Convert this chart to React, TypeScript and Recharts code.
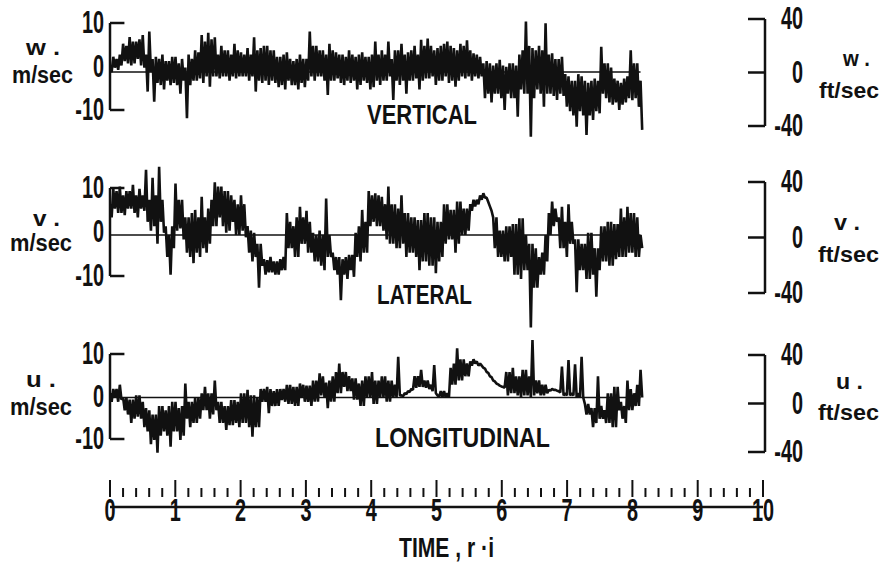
import React from 'react';
import { LineChart, Line, XAxis, YAxis, ReferenceLine } from 'recharts';

// the records are read as an upper and a lower envelope every STEP (time units);
// the pen swings between them, which gives the dense band of the original traces
const STEP = 0.05;
const TRACE_END = 8.1;

// vertical gust component w, m/sec
const wUpper = [
  1, 3.5, 3, 4,
  6.5, 6, 8, 7, 7, 7.5, 8.5,
  4, 9.3, 3,
  3.5, 3, 4, 2.5, 2.5, 3.5, 3.5, 2, 3,
  1,
  4, 3, 5, 4.5,
  8.5, 7, 9, 7.5, 8,
  4, 6, 5, 5, 4, 6.5, 5, 4.5, 4, 5.5, 4,
  8,
  5, 5.5, 6, 6, 5, 5,
  3.5, 3.5, 4, 4.5, 3, 2.5, 3, 4, 3, 3,
  9.3,
  6, 6, 5, 5, 4, 6.5, 5, 4.5, 4,
  4, 3.5, 5, 4, 3.5, 4, 4.5, 3.5, 3.5, 4, 7, 4,
  5, 4, 7,
  3, 5, 5, 6.5, 4, 4.5, 5, 6, 4,
  7.4, 6, 7.7, 6, 5, 5.5, 6, 6.5, 7, 6, 5.5, 5, 6.5, 6, 7.3,
  5, 4.3, 4, 3.5,
  2, 2.5, 2, 1.5, 2, 2.8, 1.5, 1.2, 2, 2, 1.5,
  4, 5, 11.6, 6, 5.5, 5, 6, 5,
  11.2,
  4, 4.3, 3, 3, 3.5,
  -0.5, -1, -2, -2, -0.5, -1, -2, -2.5, -2, -1.5, -2,
  5.8, 2, 2, 1,
  -1.5, -2, -2.5, -1.5, -1,
  5, 2, 2, -2,
];
const wLower = [
  0, 1, 0.5, 1.5,
  2.5, 2, 1.5, 2, 3, 1.5, 1,
  -4.5, 0, -6.8,
  -2.5, -3, -4, -2, -3, -2.5, -3, -5, -2,
  -10.6,
  -3, -2, -2, -1.5,
  -2.5, -1, -3.4, -1, -1,
  -1.5, -1, -1, -2, -1, -1.5, -1, -1, -1, -2, -1,
  -4.5,
  -2, -2.5, -2, -3, -2, -2.5,
  -3.5, -3, -4, -2, -3, -3, -4, -2.5, -3.5, -2,
  -1,
  -2, -1, -1, -2, -5.3, -2, -2, -1.5, -2.5,
  -3, -2, -2.5, -2, -4, -3, -2, -2.5, -4, -3.5, -2, -3,
  -2, -2, -1,
  -6.4, -2, -3, -2, -5, -2, -2, -1.5, -4,
  -2, -1.5, -1.5, -1, -3, -2, -2, -1, -2.5, -2, -3.4, -2, -1, -1.5, -1,
  -2, -1, -1.5, -1,
  -6, -5, -7, -5, -5, -6, -8.7, -5, -6, -6, -10.3,
  -4, -5, -5, -14.9, -6, -4, -5, -8,
  -5,
  -5, -5.5, -6.4, -5, -5.5,
  -8, -9, -10, -12.6, -9, -10, -14.5, -10, -11, -9, -9.5,
  -5, -6, -7, -7.5,
  -7, -8.7, -7.5, -7, -6,
  -6.5, -6, -8, -13.3,
];

// lateral gust component v, m/sec
const vUpper = [
  7, 10.5, 10, 11, 9, 10, 10, 11.4, 9, 10.5, 9,
  14.8, 8, 13, 9, 15.5, 8,
  2, 0, 2,
  11.7, 8, 8,
  4, 4, 5, 5.7, 4, 8.7, 4,
  6, 8, 12, 11, 11, 10, 10, 9,
  8, 7, 9, 7,
  2, 1, 0.5, -2, -2,
  -5.5, -5.7, -5, -6, -6, -5.5, -5,
  5, 3, 2, 4, 6.4, 4, 5.5, 3,
  0.5, 0, 1, 0, 8.3, 0,
  -4, -5, -5, -5.5, -5, -4.5, -4.5,
  0.5, 2, 5.7, 3,
  10, 9, 9.5, 9, 8.7,
  7, 11, 7, 7, 6, 9,
  5, 5, 4, 4,
  3.4, 3.4, 5, 5, 4, 4, 3, 3,
  7, 7, 5.7, 5.7, 7.6, 7.6, 6, 6,
  7, 8, 8, 9, 9.5, 8.5, 6.5,
  4, 4, 1, 1, 2, 2,
  2.5, 2.5, 3.8, 3.8, 0,
  -2,
  -2, -3, -5, -4, 0,
  5, 7.6, 6,
  4, 6.4, 3, 7, 3,
  -1, -1, -2, -2, 0.5, 0.5, -3, -3,
  2, 2, 3, 3, 2.5, 2.5,
  6, 4, 6.4, 5, 5, 4, 0,
];
const vLower = [
  4, 6, 5, 5, 4.5, 6, 6, 5, 4, 6, 5.5,
  3, 1, 2, -2, 3, 0.5,
  -5, -9, -3,
  1, 1.5, -1,
  -4, -5, -6.4, -4, -5, -3, -4,
  -2, 2, 2, 4, 2, 0.5, 1, 3,
  0, 0, 1, -0.5,
  -4, -6, -5, -12, -7,
  -9, -8.5, -8.5, -9, -9, -8, -8,
  -3, -3, -5, -5, -2, -2, -4, -4,
  -6, -6, -7, -8, -5, -5,
  -8, -9, -14.8, -9, -10, -8, -9.5,
  -5, -6, -4, -4,
  2, 3, 2, 2, 1,
  -1, -2, -2, -3, -3, -2,
  -5, -4, -4, -5,
  -8, -6, -6, -7, -7, -8.7, -6, -5,
  -2, -1, -1, -4, -2, 0, 0, 1,
  5.5, 6.5, 7, 8, 8.5, 7.5, 5.5,
  -3, -5, -5, -6, -6, -5,
  -9, -9, -10, -8, -8,
  -21,
  -12, -12, -9, -9, -6,
  0, 2, 3,
  -3, -3, -5, -2, -2,
  -13, -8, -8, -10, -10, -9, -14, -8,
  -6, -6, -7, -7, -5.5, -5,
  -5, -5, -4, -4, -5, -5, -3,
];

// longitudinal gust component u, m/sec
const uUpper = [
  1, 2, 2, 3,
  0, 0, -0.5, -0.5, 0.5, 0.5, -1,
  -2.5, -3, -4, -4,
  -2, -2, -3, -2, -1, -1, -2.5, -2,
  3.3,
  -1, -1, 0, 0,
  1, 2.5, 1, 1, 4,
  -1, -1, -2, -2, -0.6, -0.6, -1,
  1, 1, 1.8, 0.5, 0.5, 0,
  2, 2, 2.5, 2, 1.5, 2, 2, 2,
  3, 3, 2.5, 2.5, 3.3, 3, 2.8, 2.8,
  4, 4, 5.7, 5, 3.5, 4, 5,
  6, 8, 6, 6, 5,
  4.5, 4.5, 3.3, 4, 5, 5, 6, 4, 4,
  5, 5, 4, 4, 3,
  9.6,
  0.5, 1, 1.5, 2,
  5, 5, 6.5, 4, 4, 3, 7.6,
  0.5, 1.5, 1.5, 1,
  7, 8, 11.6, 9, 9, 8,
  8.5, 9, 8.5, 8,
  7, 6, 5, 4, 3.3, 2.8, 2.5,
  6, 6, 7, 5, 5, 6.5, 6.5, 5,
  13.5,
  4, 4, 3, 3,
  1.8, 2, 1.8, 1.5,
  7.3, 1, 8.8, 1, 7.8, 1, 9.6,
  -1.5, -1.5, -2.5, -2.5, 5, -2,
  -3, 1, 1, 2.5, 2.5, -1, -2,
  4, 2, 1, 3, 6.5,
];
const uLower = [
  -1, 0, -1, -0.5,
  -3, -4, -6, -5, -4.5, -5, -7,
  -8, -11, -10, -13,
  -9, -8, -9, -11.6, -8, -8, -10, -9,
  -5,
  -7, -6, -6, -5,
  -3, -3, -5, -4, -3,
  -6, -6, -7.6, -6.5, -6.5, -6, -7,
  -6, -6, -7, -9.2, -7, -7,
  -1, -1, -3.7, -2, -2, -2, -0.6, -1,
  -1.5, -1.5, -2, -2, 0, -1, -1, -2,
  -1, -1, 0.5, 0, -2.5, -1, -1,
  1, 1, 2.5, 1.5, 1.5,
  -0.5, -0.5, -2, -2, 0, 0, -1.5, -1.5, 0,
  0, -1, -1, 0, 0,
  0.5,
  0.3, 0.8, 1.3, 1.8,
  2.3, 2.5, 2.5, 2.3, 2, 1.5, 1,
  0.2, 0, 0, 0,
  3, 3, 4, 4, 5, 5,
  7.5, 8, 7.5, 7.5,
  6.8, 5.8, 4.8, 3.8, 3.1, 2.6, 2.3,
  0.5, 1, 1, 0.5, 0, 0.5, 0.5, 0,
  0.5,
  1, 0.5, 0.5, 1,
  1.6, 1.8, 1.6, 1.2,
  0.5, 0.5, 0.5, 0.5, 0, 0, 0,
  -4, -4, -7, -6, -5, -5,
  -6, -6, -7, -7, -3, -5, -6,
  -3, -3, -2, -2, 0,
];

const mpsTicks = [-10, 0, 10];
const ftpsTicks = [-40, 0, 40];
const timeLabels = ['0', '1', '2', '3', '4', '5', '6', '7', '8', '9', '10'];
const MINOR = 0.2;

const FONT = "'Liberation Sans', Arial, sans-serif";
const INK = '#111';
const SQUEEZE = 0.64;

const toRows = (upper: number[], lower: number[]) => {
  const rows: { t: number; v: number }[] = [];
  upper.forEach((u, i) => {
    rows.push({ t: +(i * STEP).toFixed(3), v: u });
    rows.push({ t: +(i * STEP + STEP / 2).toFixed(3), v: lower[i] });
  });
  return rows;
};

// domain that puts value 0 at pixel `zero` with `k` px per unit, over plot [top, bottom]
const dom = (zero: number, k: number, top: number, bottom: number): [number, number] => [
  (zero - bottom) / k,
  (zero - top) / k,
];

// bold condensed numeral, squeezed horizontally around its anchor
const Num = ({ x, y, anchor, children }: { x: number; y: number; anchor: 'start' | 'middle' | 'end'; children: React.ReactNode }) => (
  <text
    transform={`translate(${x},${y}) scale(${SQUEEZE},1)`}
    x={0}
    y={0}
    textAnchor={anchor}
    fontFamily={FONT}
    fontWeight={700}
    fontSize={31}
    fill={INK}
  >
    {children}
  </text>
);

const LeftTick = (p: any) => (
  <Num x={104} y={p.y + 10} anchor="end">{p.payload.value}</Num>
);

const RightTick = (p: any) => (
  <Num x={803} y={p.y + 10} anchor="end">{p.payload.value}</Num>
);

type PanelProps = {
  upper: number[];
  lower: number[];
  top: number;
  bottom: number;
  dataZero: number;
  k: number;
  leftZero: number;
  leftK: number;
  rightZero: number;
  rightK: number;
};

function Panel({ upper, lower, top, bottom, dataZero, k, leftZero, leftK, rightZero, rightK }: PanelProps) {
  const h = bottom - top;
  return (
    <div style={{ position: 'absolute', left: 0, top }}>
      <LineChart width={882} height={h} data={toRows(upper, lower)} margin={{ top: 0, right: 0, bottom: 0, left: 0 }}>
        <XAxis dataKey="t" type="number" domain={[0, 10]} hide allowDataOverflow />
        <YAxis yAxisId="D" type="number" hide domain={dom(dataZero, k, top, bottom)} allowDataOverflow />
        <YAxis
          yAxisId="L"
          orientation="left"
          type="number"
          width={110}
          domain={dom(leftZero, leftK, top, bottom)}
          ticks={mpsTicks}
          interval={0}
          allowDataOverflow
          axisLine={false}
          tickLine={false}
          tick={<LeftTick />}
        />
        <YAxis
          yAxisId="R"
          orientation="right"
          type="number"
          width={117}
          domain={dom(rightZero, rightK, top, bottom)}
          ticks={ftpsTicks}
          interval={0}
          allowDataOverflow
          axisLine={false}
          tickLine={false}
          tick={<RightTick />}
        />

        {/* left bracket */}
        <ReferenceLine yAxisId="L" segment={[{ x: 0, y: -10 }, { x: 0, y: 10 }]} stroke={INK} strokeWidth={2.5} />
        <ReferenceLine yAxisId="L" segment={[{ x: 0, y: 10 }, { x: 0.22, y: 10 }]} stroke={INK} strokeWidth={2.5} />
        <ReferenceLine yAxisId="L" segment={[{ x: 0, y: -10 }, { x: 0.22, y: -10 }]} stroke={INK} strokeWidth={2.5} />

        {/* right bracket */}
        <ReferenceLine yAxisId="R" segment={[{ x: 10, y: -40 }, { x: 10, y: 40 }]} stroke={INK} strokeWidth={2.5} />
        {ftpsTicks.map((v) => (
          <ReferenceLine key={v} yAxisId="R" segment={[{ x: 9.74, y: v }, { x: 10, y: v }]} stroke={INK} strokeWidth={2.5} />
        ))}

        {/* zero reference */}
        <ReferenceLine yAxisId="D" segment={[{ x: 0, y: 0 }, { x: TRACE_END, y: 0 }]} stroke={INK} strokeWidth={1.6} />

        <Line yAxisId="D" dataKey="v" type="linear" stroke={INK} strokeWidth={2.6} strokeLinejoin="bevel" dot={false} isAnimationActive={false} />
      </LineChart>
    </div>
  );
}

const rulerTicks: number[] = [];
for (let i = 0; i <= 50; i++) rulerTicks.push(+(i * MINOR).toFixed(1));

const RulerTick = (p: any) => {
  const v = p.payload.value as number;
  const major = Math.abs(v - Math.round(v)) < 1e-6;
  return (
    <g>
      <line x1={p.x} x2={p.x} y1={37} y2={major ? 20 : 28} stroke={INK} strokeWidth={2} />
      {major && <Num x={p.x} y={61} anchor="middle">{timeLabels[Math.round(v)]}</Num>}
    </g>
  );
};

// bold label fitted to the width it has in the figure
const Lbl = ({ x, y, w, size, children }: { x: number; y: number; w: number; size: number; children: string }) => (
  <text
    x={x}
    y={y}
    textLength={w}
    lengthAdjust="spacingAndGlyphs"
    fontFamily={FONT}
    fontWeight={700}
    fontSize={size}
    fill={INK}
  >
    {children}
  </text>
);

export default function App() {
  return (
    <div style={{ position: 'absolute', left: 0, top: 0, width: 882, height: 568, background: '#fff', overflow: 'hidden' }}>
      <Panel upper={wUpper} lower={wLower} top={0} bottom={150} dataZero={72} k={4.35} leftZero={66.5} leftK={4.35} rightZero={72.5} rightK={1.3375} />
      <Panel upper={vUpper} lower={vLower} top={150} bottom={340} dataZero={235} k={4.4} leftZero={232} leftK={4.4} rightZero={237.5} rightK={1.3875} />
      <Panel upper={uUpper} lower={uLower} top={320} bottom={470} dataZero={397.5} k={4.25} leftZero={396.5} leftK={4.25} rightZero={403.5} rightK={1.2125} />

      <div style={{ position: 'absolute', left: 0, top: 460 }}>
        <LineChart width={882} height={110} data={[{ t: 0 }, { t: 10 }]} margin={{ top: 10, right: 119, bottom: 0, left: 110 }}>
          <XAxis
            dataKey="t"
            type="number"
            domain={[0, 10]}
            ticks={rulerTicks}
            interval={0}
            height={63}
            tickSize={0}
            tickLine={false}
            axisLine={{ stroke: INK, strokeWidth: 2.5 }}
            tick={<RulerTick />}
          />
          <YAxis hide domain={[0, 1]} />
        </LineChart>
      </div>

      <svg width={882} height={568} style={{ position: 'absolute', left: 0, top: 0, pointerEvents: 'none' }}>
        {/* left units */}
        <Lbl x={26} y={55} w={34} size={22}>w .</Lbl>
        <Lbl x={12} y={83} w={61} size={23}>m/sec</Lbl>
        <Lbl x={33} y={226} w={27} size={22}>v .</Lbl>
        <Lbl x={10} y={251} w={62} size={23}>m/sec</Lbl>
        <Lbl x={26} y={387} w={30} size={22}>u .</Lbl>
        <Lbl x={10} y={415} w={62} size={23}>m/sec</Lbl>

        {/* right units */}
        <Lbl x={843} y={66} w={27} size={22}>w .</Lbl>
        <Lbl x={819} y={98} w={60} size={22}>ft/sec</Lbl>
        <Lbl x={834} y={230} w={26} size={22}>v .</Lbl>
        <Lbl x={818} y={262} w={61} size={22}>ft/sec</Lbl>
        <Lbl x={836} y={389} w={27} size={22}>u .</Lbl>
        <Lbl x={818} y={420} w={61} size={22}>ft/sec</Lbl>

        {/* component names */}
        <Lbl x={367} y={124} w={110} size={27}>VERTICAL</Lbl>
        <Lbl x={377} y={304} w={95} size={27}>LATERAL</Lbl>
        <Lbl x={375} y={447} w={175} size={27}>LONGITUDINAL</Lbl>

        <Lbl x={399} y={557} w={95} size={27}>TIME , r ·i</Lbl>
      </svg>
    </div>
  );
}
